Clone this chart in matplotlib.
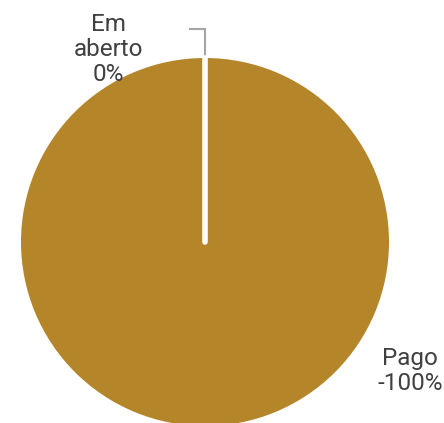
import matplotlib
matplotlib.use("Agg")
import matplotlib.pyplot as plt

# dados
categorias = ["Pago", "Em aberto"]
valores    = [100, 0]
rotulos    = ["Pago\n-100%", "Em\naberto\n0%"]

cor_pago  = "#B5852A"
cor_texto = "#404040"
cor_linha = "#A6A6A6"

plt.rcParams['font.family'] = ['Roboto', 'DejaVu Sans']

fig = plt.figure(figsize=(4.44, 4.23), dpi=100)
ax = fig.add_axes([0, 0, 1, 1])

fatias, _ = ax.pie(valores, colors=[cor_pago, cor_pago], startangle=90,
                   counterclock=False, radius=1.0,
                   wedgeprops=dict(edgecolor="white", linewidth=4))
fatias[0].set_linewidth(0)
fatias[1].set_capstyle('round')

ax.set_xlim(-205/184, (444-205)/184)
ax.set_ylim(-(423-242)/184, 242/184)
ax.set_aspect('auto')
ax.axis('off')

# rótulo "Em aberto" com linha guia
ax.plot([0.0, 0.0, -0.08], [1.0, 1.158, 1.158], color=cor_linha, lw=1.5,
        solid_joinstyle='miter', zorder=0)
ax.text(-0.527, 1.045, rotulos[1], ha='center', va='center',
        fontsize=17.5, color=cor_texto, linespacing=1.12)

# rótulo "Pago"
ax.text(1.114, -0.70, rotulos[0], ha='center', va='center',
        fontsize=17.5, color=cor_texto, linespacing=1.12)

fig.savefig("out.png", dpi=100)
